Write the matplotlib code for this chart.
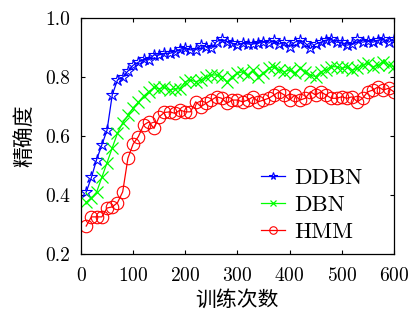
import matplotlib
matplotlib.use('Agg')
import matplotlib.pyplot as plt
import numpy as np

plt.rcParams['font.family'] = ['cmr10', 'Noto Sans CJK SC', 'DejaVu Serif']
plt.rcParams['mathtext.fontset'] = 'cm'
plt.rcParams['axes.unicode_minus'] = False
plt.rcParams['axes.formatter.use_mathtext'] = True

# 训练次数
iters = list(range(10, 601, 10))

ddbn = [0.41, 0.46, 0.52, 0.57, 0.62, 0.74, 0.79, 0.80, 0.82, 0.84,
        0.85, 0.86, 0.858, 0.875, 0.875, 0.88, 0.88, 0.886, 0.894, 0.897,
        0.892, 0.892, 0.908, 0.903, 0.897, 0.92, 0.928, 0.92, 0.915, 0.908,
        0.915, 0.912, 0.912, 0.915, 0.92, 0.915, 0.925, 0.912, 0.918, 0.903,
        0.918, 0.925, 0.915, 0.897, 0.912, 0.918, 0.925, 0.928, 0.918, 0.918,
        0.908, 0.912, 0.928, 0.918, 0.922, 0.918, 0.925, 0.928, 0.918, 0.93]

dbn = [0.375, 0.39, 0.41, 0.46, 0.51, 0.56, 0.61, 0.645, 0.67, 0.695,
       0.715, 0.735, 0.75, 0.765, 0.76, 0.765, 0.756, 0.76, 0.76, 0.784,
       0.79, 0.784, 0.79, 0.80, 0.807, 0.807, 0.801, 0.784, 0.801, 0.813,
       0.818, 0.807, 0.824, 0.801, 0.813, 0.829, 0.835, 0.824, 0.818, 0.824,
       0.813, 0.829, 0.818, 0.807, 0.801, 0.818, 0.824, 0.835, 0.835, 0.829,
       0.835, 0.824, 0.829, 0.84, 0.846, 0.835, 0.84, 0.852, 0.84, 0.835]

hmm = [0.295, 0.326, 0.326, 0.326, 0.356, 0.36, 0.374, 0.411, 0.525, 0.573,
       0.598, 0.637, 0.648, 0.626, 0.665, 0.68, 0.682, 0.677, 0.688, 0.682,
       0.682, 0.716, 0.70, 0.711, 0.722, 0.733, 0.728, 0.711, 0.722, 0.722,
       0.716, 0.722, 0.733, 0.716, 0.722, 0.728, 0.739, 0.75, 0.739, 0.722,
       0.739, 0.722, 0.728, 0.75, 0.739, 0.75, 0.739, 0.728, 0.728, 0.733,
       0.728, 0.733, 0.716, 0.728, 0.75, 0.756, 0.767, 0.756, 0.762, 0.75]

fig = plt.figure(figsize=(4.09, 3.22), dpi=100)
ax = fig.add_axes([0.198, 0.211, 0.765, 0.733])

ax.plot(iters, ddbn, color='#0000ff', marker='*', markersize=9, markerfacecolor='none',
        markeredgewidth=0.8, linewidth=0.9, label='DDBN')
ax.plot(iters, dbn, color='#00ff00', marker='x', markersize=8,
        markeredgewidth=0.9, linewidth=0.9, label='DBN')
ax.plot(iters, hmm, color='#ff0000', marker='o', markersize=9, markerfacecolor='none',
        markeredgewidth=0.8, linewidth=0.9, label='HMM')

ax.set_xlim(0, 600)
ax.set_ylim(0.2, 1.0)
ax.set_xticks([0, 100, 200, 300, 400, 500, 600])
ax.set_yticks([0.2, 0.4, 0.6, 0.8, 1.0])
ax.set_yticklabels(['0.2', '0.4', '0.6', '0.8', '1.0'])
ax.tick_params(direction='in', top=True, right=True, length=3, width=0.8,
               labelsize=14)
ax.tick_params(axis='x', pad=9)
ax.tick_params(axis='y', pad=8)
for s in ax.spines.values():
    s.set_linewidth(0.9)

ax.set_xlabel('训练次数', fontsize=15, family=['Noto Sans CJK SC'], labelpad=3)
ax.set_ylabel('精确度', fontsize=15, family=['Noto Sans CJK SC'], labelpad=7)

ax.legend(loc='lower right', bbox_to_anchor=(0.9, 0.05), frameon=False,
          fontsize=16.5, handlelength=1.05, handletextpad=0.4, labelspacing=0.3,
          borderpad=0, borderaxespad=0, markerscale=0.6)

fig.savefig('out.png', dpi=100)
